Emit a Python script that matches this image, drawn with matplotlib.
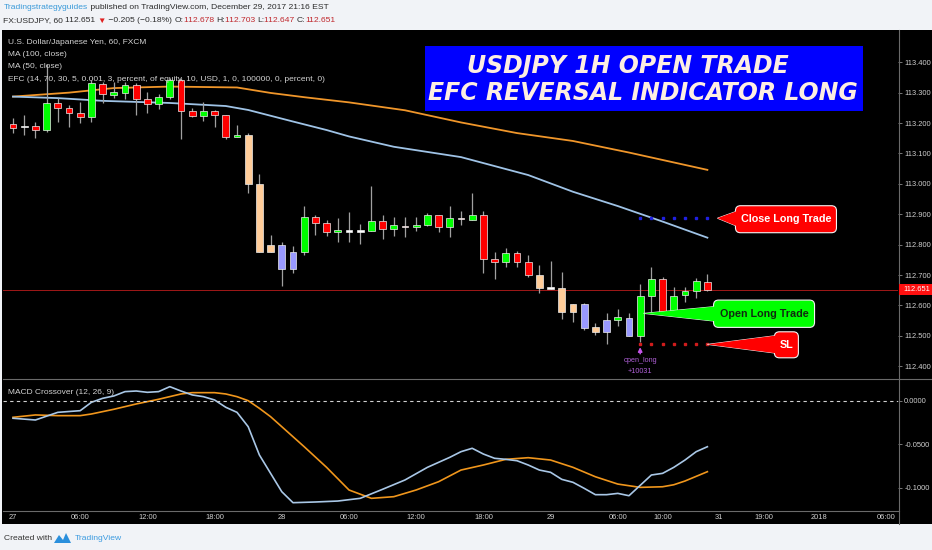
import numpy as np
import matplotlib
matplotlib.use('Agg')
import matplotlib.pyplot as plt
from matplotlib.patches import Rectangle, FancyBboxPatch, Polygon
from matplotlib.lines import Line2D
from matplotlib.transforms import IdentityTransform
from matplotlib.ticker import FuncFormatter
from matplotlib import font_manager as fm

# ---- data (USDJPY 1H, FXCM) ----
opens  = [113.198, 113.188, 113.190, 113.177, 113.265, 113.249, 113.234, 113.221, 113.329, 113.293,
          113.300, 113.325, 113.278, 113.263, 113.285, 113.342, 113.238, 113.224, 113.240, 113.227,
          113.153, 113.160, 113.000, 112.798, 112.798, 112.776, 112.776, 112.890, 112.872, 112.842,
          112.845, 112.845, 112.846, 112.879, 112.851, 112.861, 112.858, 112.864, 112.896, 112.857,
          112.887, 112.881, 112.897, 112.753, 112.742, 112.772, 112.742, 112.700, 112.657, 112.657,
          112.604, 112.604, 112.528, 112.512, 112.551, 112.559, 112.501, 112.630, 112.686, 112.580,
          112.634, 112.649, 112.678]
highs  = [113.216, 113.227, 113.203, 113.395, 113.282, 113.260, 113.270, 113.340, 113.336, 113.336,
          113.336, 113.331, 113.303, 113.296, 113.348, 113.348, 113.250, 113.270, 113.243, 113.227,
          113.194, 113.168, 113.032, 112.832, 112.810, 112.796, 112.927, 112.898, 112.880, 112.889,
          112.906, 112.868, 112.994, 112.898, 112.890, 112.892, 112.892, 112.905, 112.896, 112.927,
          112.912, 112.971, 112.912, 112.777, 112.790, 112.778, 112.766, 112.733, 112.747, 112.710,
          112.604, 112.609, 112.541, 112.574, 112.588, 112.574, 112.670, 112.728, 112.695, 112.660,
          112.662, 112.690, 112.703]
lows   = [113.167, 113.161, 113.152, 113.170, 113.205, 113.188, 113.201, 113.205, 113.267, 113.282,
          113.280, 113.227, 113.232, 113.245, 113.280, 113.147, 113.220, 113.208, 113.186, 113.148,
          113.153, 112.971, 112.776, 112.776, 112.664, 112.706, 112.766, 112.832, 112.830, 112.810,
          112.810, 112.802, 112.846, 112.818, 112.830, 112.824, 112.845, 112.861, 112.842, 112.826,
          112.866, 112.880, 112.708, 112.687, 112.725, 112.725, 112.695, 112.642, 112.655, 112.555,
          112.547, 112.519, 112.503, 112.473, 112.533, 112.501, 112.481, 112.580, 112.580, 112.569,
          112.612, 112.626, 112.647]
closes = [113.185, 113.188, 113.177, 113.265, 113.249, 113.232, 113.221, 113.331, 113.296, 113.302,
          113.325, 113.278, 113.262, 113.285, 113.342, 113.238, 113.224, 113.238, 113.226, 113.155,
          113.160, 113.000, 112.776, 112.776, 112.719, 112.719, 112.890, 112.872, 112.841, 112.848,
          112.845, 112.845, 112.879, 112.851, 112.864, 112.859, 112.866, 112.896, 112.857, 112.887,
          112.885, 112.897, 112.753, 112.742, 112.772, 112.742, 112.700, 112.657, 112.657, 112.577,
          112.577, 112.527, 112.512, 112.553, 112.561, 112.501, 112.630, 112.687, 112.580, 112.632,
          112.649, 112.681, 112.651]
# bar colouring state from the EFC indicator
states = ['dn', 'flat', 'dn', 'up', 'dn', 'dn', 'dn', 'up', 'dn', 'up',
          'up', 'dn', 'dn', 'up', 'up', 'dn', 'dn', 'up', 'dn', 'dn',
          'up', 'efc', 'efc', 'efc', 'low', 'low', 'up', 'dn', 'dn', 'up',
          'flat', 'flat', 'up', 'dn', 'up', 'pink', 'up', 'up', 'dn', 'up',
          'pink', 'up', 'dn', 'dn', 'up', 'dn', 'dn', 'efc', 'flat', 'efc',
          'efc', 'low', 'efc', 'low', 'up', 'low', 'up', 'up', 'dn', 'up',
          'up', 'up', 'dn']

ma100_bars = [0, 5, 9, 14, 20, 23, 26, 30, 35, 40, 45, 50, 55, 62]
ma100 = [113.287, 113.300, 113.315, 113.320, 113.317, 113.299, 113.285, 113.268, 113.242,
         113.202, 113.167, 113.141, 113.103, 113.046]
ma50_bars = [0, 4, 8, 14, 19, 21, 25, 28, 30, 34, 40, 46, 50, 54, 58, 62]
ma50 = [113.287, 113.282, 113.273, 113.266, 113.256, 113.243, 113.205, 113.177, 113.156,
        113.122, 113.088, 113.029, 112.974, 112.927, 112.876, 112.823]

macd_bars = [0, 2, 4, 6, 7, 8, 9, 10, 11, 12, 13, 14, 15, 16, 17, 18, 19, 20, 21, 22, 23, 24, 25,
             27, 29, 31, 33, 35, 37, 39, 40, 41, 42, 43, 44, 45, 46, 47, 48, 49, 50, 51, 52,
             53, 54, 55, 56, 57, 58, 59, 60, 61, 62]
macd = [-0.0202, -0.0222, -0.0134, -0.0115, -0.0019, 0.0027, 0.0054, 0.0104, 0.0111, 0.0096,
        0.0104, 0.0161, 0.0111, 0.0066, 0.0046, 0.0008, -0.0076, -0.0134, -0.0299, -0.0624,
        -0.0835, -0.1046, -0.1172, -0.1164, -0.1153, -0.1122, -0.1018, -0.0911, -0.0766, -0.0651,
        -0.0586, -0.0547, -0.0613, -0.0662, -0.0674, -0.0690, -0.0739, -0.0797, -0.0823, -0.0904,
        -0.0938, -0.1007, -0.1080, -0.1080, -0.1065, -0.1092, -0.0973, -0.0854, -0.0835, -0.0766,
        -0.0682, -0.0586, -0.0529]
signal_bars = [0, 2, 4, 6, 7, 9, 11, 13, 15, 16, 18, 19, 20, 21, 22, 23, 24, 26, 28, 30, 32, 34,
               36, 38, 40, 42, 44, 46, 48, 50, 52, 54, 56, 58, 59, 60, 62]
signal = [-0.0191, -0.0164, -0.0172, -0.0172, -0.0153, -0.0099, -0.0038, 0.0016, 0.0077, 0.0092,
          0.0092, 0.0077, 0.0046, 0.0, -0.0088, -0.0184, -0.0299, -0.0529, -0.0766, -0.1026,
          -0.1122, -0.1103, -0.1026, -0.0931, -0.0797, -0.0739, -0.0674, -0.0655, -0.0682, -0.0766,
          -0.0874, -0.0958, -0.0996, -0.0989, -0.0966, -0.0923, -0.0816]

# trade levels
entry_bar = 56
entry_price = 112.574
take_profit = 112.887
stop_loss = 112.472
level_bars = [56, 57, 58, 59, 60, 61, 62]

tick_pos = [0, 6, 12, 18, 24, 30, 36, 42, 48, 54, 58, 63, 67, 72, 78]
tick_lab = ['27', '06:00', '12:00', '18:00', '28', '06:00', '12:00', '18:00', '29',
            '06:00', '10:00', '31', '19:00', '2018', '06:00']
price_ticks = [112.4, 112.5, 112.6, 112.7, 112.8, 112.9, 113.0, 113.1, 113.2, 113.3, 113.4]
macd_ticks = [0.0, -0.05, -0.1]
day_change = -0.205
day_change_pct = -0.18


# ---- fonts ----
def first_font(names):
    for n in names:
        try:
            fm.findfont(fm.FontProperties(family=n), fallback_to_default=False)
            return n
        except ValueError:
            pass
    return 'DejaVu Sans'


SMALL = first_font(['Liberation Sans Narrow', 'Liberation Sans'])
FN = [SMALL, 'DejaVu Sans']
SZ_LEG = 6.0
SZ_AXIS = 5.4
SZ_HEAD = 6.1

# ---- figure ----
W, H = 932, 550


def fx(x):
    return x / W


def fy(y):
    return 1 - y / H


fig = plt.figure(figsize=(W / 100, H / 100), dpi=100, facecolor='#f1f3f7')
r = fig.canvas.get_renderer()


def size_for(s, width, **kw):
    t = fig.text(0, 0, s, fontsize=10, **kw)
    w = t.get_window_extent(r).width
    t.remove()
    return 10 * width / w


fig.add_artist(Rectangle((fx(2), fy(524)), 1 - fx(2), (524 - 30) / H, transform=fig.transFigure,
                         fc='black', ec='none', zorder=-1))

ax = fig.add_axes([fx(3), fy(378), 895 / W, 348 / H], facecolor='black')
ax2 = fig.add_axes([fx(3), fy(510), 895 / W, 131 / H], facecolor='black', sharex=ax)
ax.set_xlim(-0.893, 79.02)
ax.set_ylim(112.3615, 113.506)
ax2.set_ylim(-0.1256, 0.0249)
for a in (ax, ax2):
    for s in a.spines.values():
        s.set_visible(False)

# candles
col = {'up': '#00ff00', 'dn': '#ff0000', 'flat': '#ffffff', 'pink': '#ffb0b0',
       'efc': '#ffcc99', 'low': '#9999ff'}
x = np.arange(len(opens))
o = np.array(opens)
c = np.array(closes)
ax.vlines(x, lows, highs, color='#a0a0a0', lw=0.9, zorder=2)
mid = (o + c) / 2
hgt = np.maximum(np.abs(c - o), 0.005)
ax.bar(x, hgt, bottom=mid - hgt / 2, width=0.62, color=[col[s] for s in states],
       edgecolor='#eeeeee', linewidth=0.5, zorder=3)

ax.plot(ma100_bars, ma100, color='#f0962a', lw=1.3, zorder=1)
ax.plot(ma50_bars, ma50, color='#9fc3e6', lw=1.3, zorder=1)
ax.axhline(closes[-1], color='#a01818', lw=0.7, zorder=0)

# trade levels
ax.plot(level_bars, [take_profit] * len(level_bars), ls='none', marker='s', ms=1.8,
        color='#2020e0', zorder=4)
ax.plot(level_bars, [stop_loss] * len(level_bars), ls='none', marker='s', ms=1.8,
        color='#d01c1c', zorder=4)
ax.annotate('', xy=(entry_bar, stop_loss), xytext=(entry_bar, 112.432),
            arrowprops=dict(arrowstyle='-|>', color='#c454e8', lw=1.1, mutation_scale=6), zorder=5)
ax.text(entry_bar, 112.418, 'open_long', color='#b060d8', fontsize=5.2, family=FN,
        ha='center', va='center')
ax.text(entry_bar, 112.384, '+10031', color='#b060d8', fontsize=5.2, family=FN,
        ha='center', va='center')

# axes ticks
ax.yaxis.tick_right()
ax.set_yticks(price_ticks)
ax.yaxis.set_major_formatter(FuncFormatter(lambda v, p: f'{v:.3f}'))
ax.tick_params(axis='y', colors='#8a8a8a', labelcolor='#d0d0d0', labelsize=SZ_AXIS, length=3,
               width=0.6, pad=1.5)
ax.tick_params(axis='x', bottom=False, labelbottom=False)

ax2.plot(signal_bars, signal, color='#f0961c', lw=1.2)
ax2.plot(macd_bars, macd, color='#a9c7e6', lw=1.2)
ax2.axhline(0, color='#d0d0d0', lw=0.8, ls=(0, (3, 3)))
ax2.yaxis.tick_right()
ax2.set_yticks(macd_ticks)
ax2.yaxis.set_major_formatter(FuncFormatter(lambda v, p: f'{v:.4f}'))
ax2.tick_params(axis='y', colors='#8a8a8a', labelcolor='#d0d0d0', labelsize=SZ_AXIS, length=3,
                width=0.6, pad=1.5)
ax2.set_xticks(tick_pos)
ax2.set_xticklabels(tick_lab)
ax2.tick_params(axis='x', length=0, labelsize=SZ_AXIS, labelcolor='#d0d0d0', pad=3)
for lab in ax.get_yticklabels() + ax2.get_yticklabels() + ax2.get_xticklabels():
    lab.set_family(FN)

# last price label on the scale
lx, ly = ax.transData.transform((0, closes[-1]))
fig.add_artist(Rectangle((899, ly - 5.5), 33, 11, transform=IdentityTransform(), fc='#ff1010',
                         ec='none', zorder=6))
fig.text(fx(903), ly / H, f'{closes[-1]:.3f}', color='white', fontsize=SZ_AXIS, family=FN,
         va='center', ha='left', zorder=7)

# panel borders
for xs, ys in [((3, 932), (378.5, 378.5)), ((3, 898.5), (510.5, 510.5)), ((898.5, 898.5), (30, 524))]:
    fig.add_artist(Line2D([fx(v) for v in xs], [fy(v) for v in ys], color='#6a6a6a', lw=0.8,
                          transform=fig.transFigure))

# legend texts
legend = ['U.S. Dollar/Japanese Yen, 60, FXCM', 'MA (100, close)', 'MA (50, close)',
          'EFC (14, 70, 30, 5, 0.001, 3, percent, of equity, 10, USD, 1, 0, 100000, 0, percent, 0)']
for i, s in enumerate(legend):
    fig.text(fx(8), fy(42.5 + 12.2 * i), s, color='#d2d2d2', fontsize=SZ_LEG, family=FN, va='center')
fig.text(fx(8), fy(392.5), 'MACD Crossover (12, 26, 9)', color='#d2d2d2', fontsize=SZ_LEG,
         family=FN, va='center')

# title box
fig.add_artist(Rectangle((fx(425), fy(111)), (862.7 - 425) / W, 65 / H, transform=fig.transFigure,
                         fc='#0000ff', ec='none', zorder=4))
s_title = size_for('EFC REVERSAL INDICATOR LONG', 429, fontweight='bold', style='italic',
                   family='DejaVu Sans')
for s, xc, yc in [('USDJPY 1H OPEN TRADE', 627.5, 66), ('EFC REVERSAL INDICATOR LONG', 643, 93.5)]:
    fig.text(fx(xc), fy(yc), s, color='#fdeee2', fontsize=s_title, fontweight='bold', style='italic',
             family='DejaVu Sans', ha='center', va='center', zorder=5)

s_call = size_for('Close Long Trade', 90, fontweight='bold', family=FN)


# callouts (drawn in pixel space, anchored on data points)
def callout(bar, price, box, base, fc, text, tcolor):
    dx, dy = ax.transData.transform((bar, price))
    bx0, bx1, by0, by1 = box
    wx, wy0, wy1 = base
    tri = [(dx, dy), (dx + wx, dy - wy0), (dx + wx, dy - wy1)]
    fig.add_artist(Polygon(tri, closed=True, transform=IdentityTransform(), fc=fc, ec='#f4f4f4',
                           lw=0.7, zorder=6))
    fig.add_artist(FancyBboxPatch((dx + bx0, dy - by1), bx1 - bx0, by1 - by0,
                                  boxstyle='round,pad=0,rounding_size=5', transform=IdentityTransform(),
                                  fc=fc, ec='#f4f4f4', lw=0.8, zorder=6))
    fig.add_artist(Polygon(tri, closed=True, transform=IdentityTransform(), fc=fc, ec='none', zorder=7))
    fig.text((dx + (bx0 + bx1) / 2) / W, (dy - (by0 + by1) / 2) / H, text, color=tcolor,
             fontsize=s_call, fontweight='bold', family=FN, ha='center', va='center', zorder=8)


callout(level_bars[-1] + 0.9, take_profit, (18, 119, -12.5, 14.5), (22, -8, 9), '#ff0000',
        'Close Long Trade', 'white')
callout(entry_bar + 0.3, entry_price, (70, 171, -13.3, 14), (73, -7, 8), '#00ff00',
        'Open Long Trade', '#102a10')
callout(level_bars[-1], stop_loss, (67, 91, -12.6, 13.4), (70, -9, 9), '#ff0000', 'SL', 'white')


# header
def seg_line(x0, y, parts, size):
    xx = x0
    for s, cc in parts:
        t = fig.text(fx(xx), fy(y), s, color=cc, fontsize=size, family=FN, va='center', ha='left')
        xx += t.get_window_extent(r).width


dark = '#2b2b2b'
red = '#c0282d'
seg_line(4, 7.5, [('Tradingstrategyguides', '#3a9ad9'),
                  (' published on TradingView.com, December 29, 2017 21:16 EST', dark)], SZ_HEAD)
seg_line(3, 21, [('FX:USDJPY, 60 ', dark), (f'{closes[-1]:.3f} ', dark), ('\u25bc', '#e02020'),
                 (f' \u2212{abs(day_change):.3f} (\u2212{abs(day_change_pct):.2f}%) ', dark),
                 ('O:', dark), (f'{opens[-1]:.3f} ', red), ('H:', dark), (f'{highs[-1]:.3f} ', red),
                 ('L:', dark), (f'{lows[-1]:.3f} ', red), ('C:', dark), (f'{closes[-1]:.3f}', red)],
         SZ_HEAD)

# footer
fig.text(fx(4), fy(538), 'Created with', color='#333333', fontsize=SZ_HEAD, family=FN, va='center')
fig.add_artist(Polygon([(fx(54), fy(543)), (fx(59), fy(535)), (fx(63), fy(540)), (fx(66), fy(533)),
                        (fx(71), fy(543))], closed=True, transform=fig.transFigure, fc='#2a8fdc', ec='none'))
fig.text(fx(75), fy(538), 'TradingView', color='#3c9be0', fontsize=SZ_HEAD, family=FN, va='center')

fig.savefig('out.png', dpi=100, facecolor=fig.get_facecolor())
